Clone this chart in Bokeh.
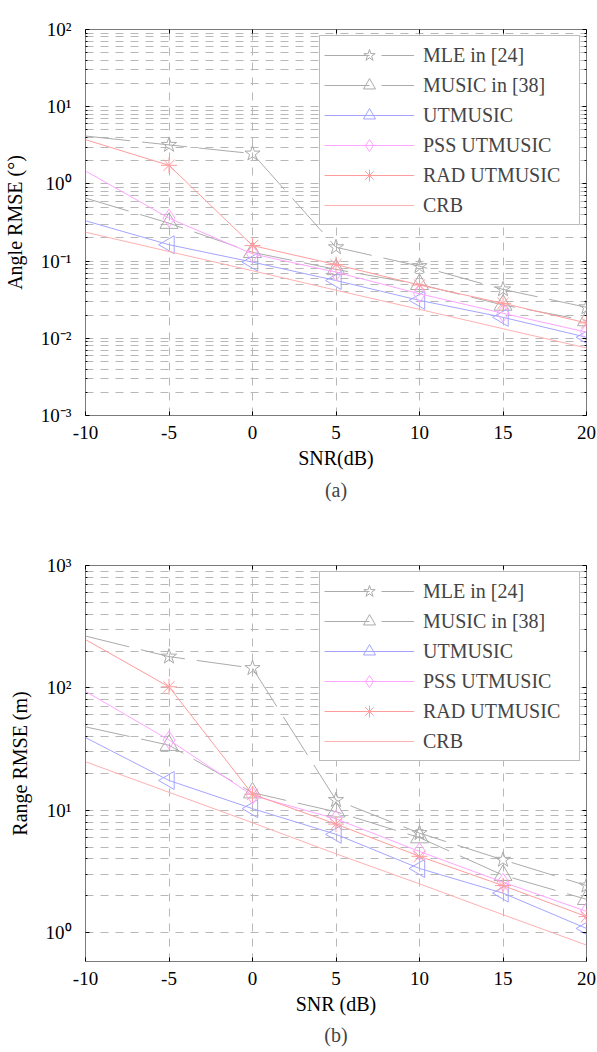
import math
from bokeh.plotting import figure
from bokeh.models import (FixedTicker, CustomJSTickFormatter, Title, Legend,
                          LegendItem, Range1d, LinearAxis, LogAxis)
from bokeh.layouts import column
from bokeh.embed import file_html
from bokeh.resources import INLINE

# ---------------- data ----------------
snr = [-10, -5, 0, 5, 10, 15, 20]
x_ticks = [-10, -5, 0, 5, 10, 15, 20]

series_names = ["MLE in [24]", "MUSIC in [38]", "UTMUSIC", "PSS UTMUSIC", "RAD UTMUSIC", "CRB"]

# (a) angle RMSE (degrees)
angle_mle = [4.17, 3.2, 2.47, 0.151, 0.086, 0.043, 0.0252]
angle_music = [0.655, 0.31, 0.13, 0.078, 0.050, 0.027, 0.017]
angle_ut = [0.333, 0.163, 0.097, 0.056, 0.031, 0.0187, 0.0103]
angle_pss = [1.47, 0.36, 0.124, 0.072, 0.0377, 0.0211, 0.012]
angle_rad = [3.74, 1.74, 0.159, 0.090, 0.049, 0.0284, 0.0158]
angle_crb = [0.237, 0.133, 0.075, 0.042, 0.0237, 0.0133, 0.0075]

# (b) range RMSE (m)
range_mle = [265, 180, 145, 12.1, 6.5, 3.93, 2.42]
range_music = [48, 34, 13.9, 9.7, 5.97, 2.94, 1.87]
range_ut = [39.2, 17.5, 10.3, 6.35, 3.34, 2.1, 1.08]
range_pss = [93.6, 37.5, 13.2, 8.5, 4.6, 2.58, 1.49]
range_rad = [248, 102, 13.5, 7.7, 4.2, 2.42, 1.35]
range_crb = [24.9, 14.0, 7.9, 4.4, 2.5, 1.4, 0.79]

angle_decades = [-3, -2, -1, 0, 1, 2]
range_decades = [0, 1, 2, 3]

# ---------------- styles ----------------
FONT = "Liberation Serif, Times New Roman, serif"
GRID = "#b8b8b8"
styles = [
    dict(color="#ababab", dash="45 12", marker="star", size=16, angle=0.0),
    dict(color="#ababab", dash="45 12", marker="triangle", size=18, angle=0.0),
    dict(color="#a4a4ff", dash="solid", marker="triangle", size=18, angle=math.pi / 2),
    dict(color="#ffa4ff", dash="solid", marker="diamond", size=18, angle=0.0),
    dict(color="#ff9c9c", dash="solid", marker="asterisk", size=16, angle=0.0),
    dict(color="#ffb0b0", dash="solid", marker=None, size=0, angle=0.0),
]

X_FMT = CustomJSTickFormatter(code="return String(tick);")
Y_FMT_CODE = """
const e = Math.round(Math.log10(tick));
const sup = {'-': '\u207b', '0': '\u2070', '1': '\u00b9', '2': '\u00b2', '3': '\u00b3'};
return '10' + String(e).split('').map(c => sup[c]).join('');
"""


def style_axis(ax, labels=True):
    ax.axis_line_color = None
    ax.major_tick_in = 4
    ax.major_tick_out = 0
    ax.minor_tick_in = 2
    ax.minor_tick_out = 0
    ax.major_tick_line_color = "black"
    ax.minor_tick_line_color = "black"
    ax.major_label_text_font = FONT
    ax.major_label_text_font_size = "19px" if labels else "0px"
    ax.major_label_text_color = "black"
    ax.axis_label_text_font = FONT
    ax.axis_label_text_font_size = "20px"
    ax.axis_label_text_font_style = "normal"
    ax.axis_label_text_color = "black"


def make_panel(series, y_lo, y_hi, decades, ylabel, xlabel, tag, height, top, bottom,
               title_standoff):
    p = figure(width=597, height=height, x_range=Range1d(-10, 20),
               y_range=Range1d(y_lo, y_hi), y_axis_type="log",
               output_backend="svg", toolbar_location=None,
               min_border_left=84, min_border_right=11,
               min_border_top=top, min_border_bottom=bottom)
    p.outline_line_color = "#7a7a7a"
    p.outline_line_width = 1

    xt = FixedTicker(ticks=x_ticks, minor_ticks=[])
    majors = [10.0 ** k for k in decades]
    minors = [m * 10.0 ** k for k in decades[:-1] for m in range(2, 10)]
    yt = FixedTicker(ticks=majors, minor_ticks=minors)

    p.xaxis.ticker = xt
    p.xaxis.formatter = X_FMT
    p.yaxis.ticker = yt
    p.yaxis.formatter = CustomJSTickFormatter(code=Y_FMT_CODE)
    style_axis(p.xaxis[0])
    style_axis(p.yaxis[0])
    p.xaxis.major_label_standoff = 10
    p.xaxis.axis_label_standoff = 5
    p.yaxis.major_label_standoff = 14
    p.yaxis.axis_label_standoff = 12
    p.xaxis.axis_label = xlabel
    p.yaxis.axis_label = ylabel

    # mirrored ticks on the top and right edges of the box
    top_ax = LinearAxis(ticker=xt, formatter=CustomJSTickFormatter(code="return '';"),
                        major_label_standoff=0)
    style_axis(top_ax, labels=False)
    p.add_layout(top_ax, "above")
    right_ax = LogAxis(ticker=yt, formatter=CustomJSTickFormatter(code="return '';"),
                       major_label_standoff=0)
    style_axis(right_ax, labels=False)
    p.add_layout(right_ax, "right")

    # grid
    p.xgrid.grid_line_color = GRID
    p.xgrid.grid_line_dash = "8 7"
    p.ygrid.grid_line_color = GRID
    p.ygrid.grid_line_dash = "8 7"
    p.ygrid.minor_grid_line_color = GRID
    p.ygrid.minor_grid_line_dash = "8 7"

    items = []
    for name, vals, st in zip(series_names, series, styles):
        rends = [p.line(snr, vals, line_color=st["color"], line_width=1,
                        line_dash=st["dash"])]
        if st["marker"]:
            rends.append(p.scatter(snr[1:], vals[1:], marker=st["marker"], size=st["size"],
                                   angle=st["angle"], line_color=st["color"],
                                   line_width=1, fill_color=None))
        items.append(LegendItem(label=name, renderers=rends))

    leg = Legend(items=items, location="top_right", margin=6, padding=4, spacing=0,
                 label_height=30, glyph_height=30, glyph_width=90, label_standoff=9,
                 label_width=152, label_text_font=FONT, label_text_font_size="20px",
                 border_line_color="#7a7a7a", border_line_width=1,
                 background_fill_color="white", background_fill_alpha=1.0)
    p.add_layout(leg)

    p.add_layout(Title(text=tag, align="center", text_font=FONT, text_font_size="20px",
                       text_font_style="normal", standoff=title_standoff, offset=-12),
                 "below")
    return p


p1 = make_panel([angle_mle, angle_music, angle_ut, angle_pss, angle_rad, angle_crb],
                0.001, 100, angle_decades, "Angle RMSE (°)", "SNR(dB)", "(a)",
                height=510, top=29, bottom=95, title_standoff=10)
p2 = make_panel([range_mle, range_music, range_ut, range_pss, range_rad, range_crb],
                0.58, 1000, range_decades, "Range RMSE (m)", "SNR (dB)", "(b)",
                height=542, top=55, bottom=91, title_standoff=8)

layout = column(p1, p2, spacing=0)
open("out.html", "w", encoding="utf-8").write(file_html(layout, INLINE))
